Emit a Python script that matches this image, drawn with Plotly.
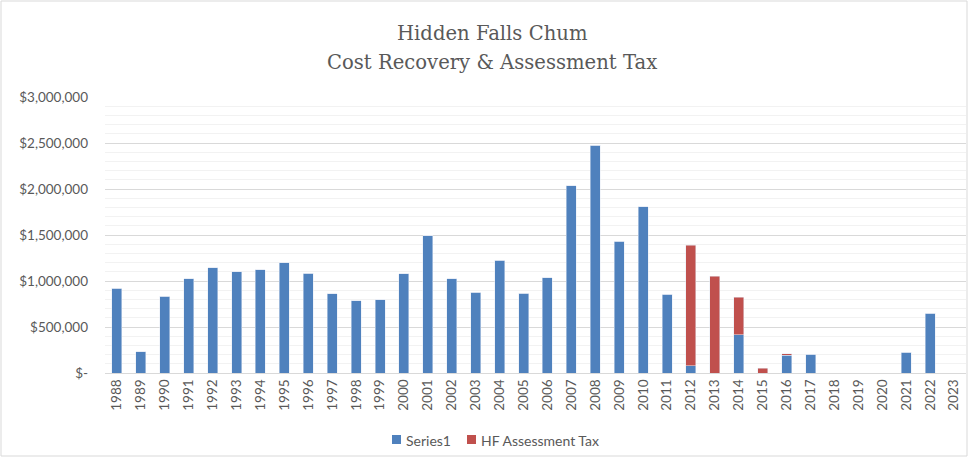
import plotly.graph_objects as go

years = [str(y) for y in range(1988, 2024)]
series1 = [920000, 232000, 833000, 1022000, 1145000, 1098000, 1123000, 1199000, 1083000, 859000,
           786000, 797000, 1080000, 1493000, 1022000, 877000, 1225000, 866000, 1033000, 2033000,
           2478000, 1431000, 1808000, 855000, 80000, 0, 417000, 0, 192000, 203000,
           0, 0, 0, 225000, 649000, 0]
hf_tax = [0]*24 + [1310000, 1051000, 405000, 50000, 18000, 0, 0, 0, 0, 0, 0, 0]

ytick_vals = [0, 500000, 1000000, 1500000, 2000000, 2500000, 3000000]
ytick_text = ["$-", "$500,000", "$1,000,000", "$1,500,000", "$2,000,000", "$2,500,000", "$3,000,000"]
title_lines = ["Hidden Falls Chum", "Cost Recovery & Assessment Tax"]
series_names = ["Series1", "HF Assessment Tax"]
series_colors = ["#4F81BD", "#C0504D"]

grey = "#595959"
fig = go.Figure()
fig.add_bar(x=years, y=series1, name=series_names[0], marker_color=series_colors[0])
fig.add_bar(x=years, y=hf_tax, name=series_names[1], marker_color=series_colors[1])

W, H = 969, 459
L, R, T, B = 105, 3, 97, 86
pw = W - L - R
ph = H - T - B

def py(ypix):
    return (T + ph - ypix) / ph

def px(xpix):
    return (xpix - L) / pw

annotations = [
    dict(text=title_lines[0], x=px(492), y=py(33), xref="paper", yref="paper",
         xanchor="center", yanchor="middle", showarrow=False,
         font=dict(family="DejaVu Serif", size=19.6, color=grey)),
    dict(text=title_lines[1], x=px(492), y=py(62), xref="paper", yref="paper",
         xanchor="center", yanchor="middle", showarrow=False,
         font=dict(family="DejaVu Serif", size=19.6, color=grey)),
]
shapes = [dict(type="rect", xref="paper", yref="paper",
               x0=px(1), x1=px(W - 2), y0=py(H - 3), y1=py(1),
               line=dict(color="#d9d9d9", width=1), fillcolor="rgba(0,0,0,0)", layer="below")]

# legend drawn as shapes + text (positions in px)
leg_sq_x = [392, 467]
leg_txt_x = [404, 479]
for name, col, sx, tx in zip(series_names, series_colors, leg_sq_x, leg_txt_x):
    shapes.append(dict(type="rect", xref="paper", yref="paper",
                       x0=px(sx), x1=px(sx + 9), y0=py(444), y1=py(435),
                       line=dict(width=0), fillcolor=col))
    annotations.append(dict(text=name, x=px(tx), y=py(440), xref="paper", yref="paper",
                            xanchor="left", yanchor="middle", showarrow=False,
                            font=dict(family="Lato", size=14, color=grey)))

fig.update_layout(
    width=W, height=H,
    barmode="stack", bargap=0.58,
    margin=dict(l=L, r=R, t=T, b=B),
    paper_bgcolor="white", plot_bgcolor="white",
    font=dict(family="Lato", size=13.5, color=grey),
    annotations=annotations,
    shapes=shapes,
    showlegend=False,
    xaxis=dict(type="category", tickangle=-90, showline=True, linecolor="#d9d9d9",
               ticks="", showgrid=False, tickfont=dict(size=13.5, color=grey)),
    yaxis=dict(range=[0, 3000000], tickvals=ytick_vals, ticktext=ytick_text,
               showgrid=True, gridcolor="#d9d9d9", gridwidth=1, zeroline=False,
               showline=False, ticks="", ticklabelstandoff=16,
               minor=dict(dtick=100000, showgrid=True, gridcolor="#f2f2f2", gridwidth=1),
               tickfont=dict(size=13.5, color=grey)),
)

fig.write_html("out.html", config={"displayModeBar": False},
               post_script="document.body.style.margin='0';")
